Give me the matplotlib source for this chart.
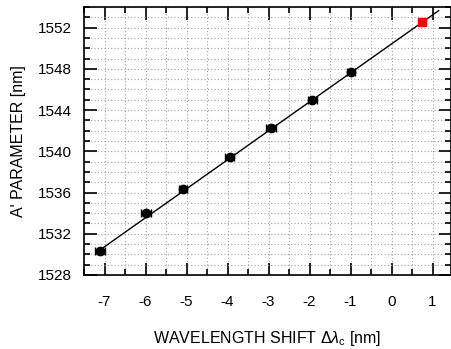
import matplotlib
matplotlib.use("Agg")
import matplotlib.pyplot as plt
from matplotlib.ticker import MultipleLocator

plt.rcParams['font.family'] = ['Liberation Sans', 'DejaVu Sans']
plt.rcParams['mathtext.fontset'] = 'custom'
plt.rcParams['mathtext.rm'] = 'Liberation Sans'
plt.rcParams['mathtext.it'] = 'Liberation Sans:italic'
plt.rcParams['axes.unicode_minus'] = False

# data
shift = [-7.12, -5.98, -5.08, -3.95, -2.93, -1.93, -0.98]
a_param = [1530.28, 1534.0, 1536.35, 1539.45, 1542.3, 1545.0, 1547.65]
y_err = [0.2, 0.25, 0.2, 0.15, 0.25, 0.2, 0.15]
x_err = [0.12, 0.12, 0.1, 0.12, 0.12, 0.1, 0.1]
pred_x = [0.75]
pred_y = [1552.5]
fit_x = [-7.05, 1.15]
fit_y = [1530.6, 1553.65]

fig = plt.figure(figsize=(4.52, 3.49), dpi=100)
ax = fig.add_axes([84/452, 1 - 275/349, (451-84)/452, (275-7)/349])

ax.plot(fit_x, fit_y, color='black', lw=1.0, zorder=3)
ax.errorbar(shift, a_param, yerr=y_err, xerr=x_err, fmt='o', color='black',
            ms=6, capsize=3, elinewidth=1, capthick=1, zorder=4)
ax.plot(pred_x, pred_y, 's', color='#ff0000', ms=6, zorder=5)

ax.set_xlim(-7.5, 1.45)
ax.set_ylim(1528, 1554)
ax.xaxis.set_major_locator(MultipleLocator(1))
ax.xaxis.set_minor_locator(MultipleLocator(0.5))
ax.yaxis.set_major_locator(MultipleLocator(4))
ax.yaxis.set_minor_locator(MultipleLocator(1))

ax.grid(True, which='both', color='#a0a0a0', linestyle=(0, (1, 2)), lw=0.8)
ax.set_axisbelow(True)
ax.tick_params(which='both', direction='in', top=True, right=True, width=1.2)
ax.tick_params(which='major', length=9, labelsize=11)
ax.tick_params(which='minor', length=4)
ax.tick_params(axis='x', which='major', pad=14.5)
ax.tick_params(axis='y', which='major', pad=8.5)
for s in ax.spines.values():
    s.set_linewidth(1.2)

ax.set_xlabel(r'WAVELENGTH SHIFT $\Delta\lambda_{\rm c}$ [nm]', fontsize=11.5, labelpad=14)
ax.set_ylabel("A' PARAMETER [nm]", fontsize=11.5, labelpad=9)

fig.savefig('out.png', dpi=100)
